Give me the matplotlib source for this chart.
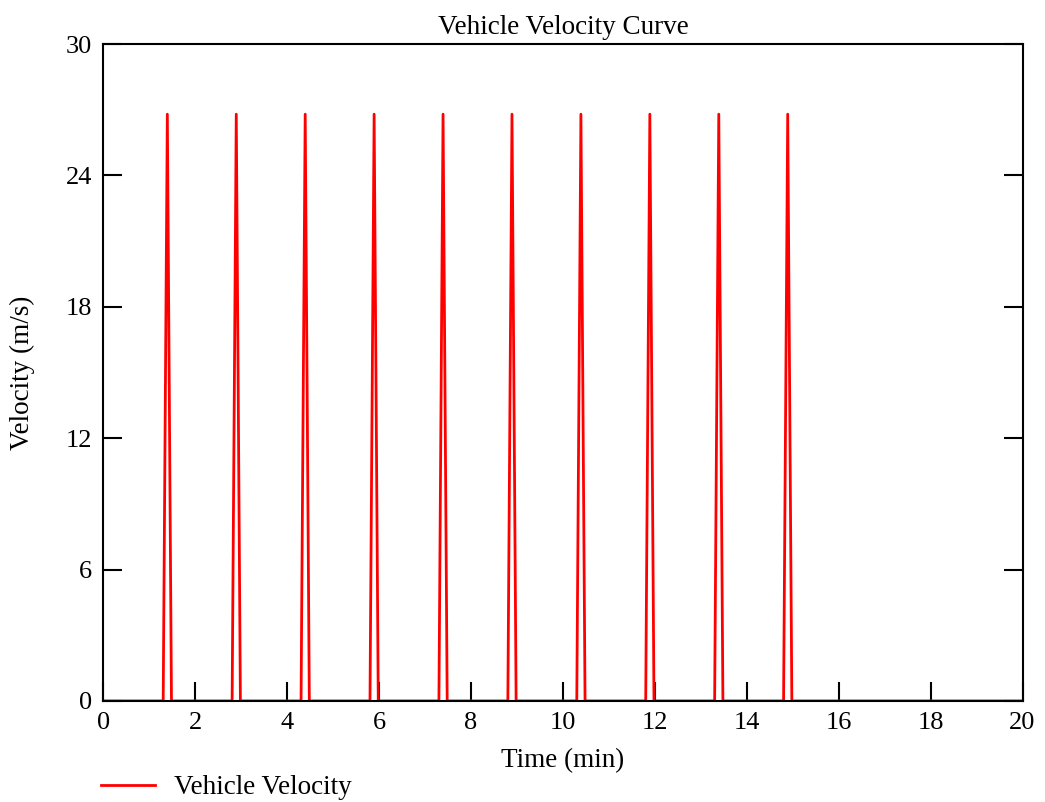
import matplotlib
matplotlib.use("Agg")
import matplotlib.pyplot as plt
from matplotlib.lines import Line2D

plt.rcParams['font.family'] = ['Liberation Serif', 'DejaVu Serif']

time_min = [0.0,
            1.30, 1.39, 1.48,
            2.80, 2.89, 2.98,
            4.30, 4.39, 4.48,
            5.80, 5.89, 5.98,
            7.30, 7.39, 7.48,
            8.80, 8.89, 8.98,
            10.30, 10.39, 10.48,
            11.80, 11.89, 11.98,
            13.30, 13.39, 13.48,
            14.80, 14.89, 14.98,
            20.0]
velocity = [0.0,
            0.0, 26.8, 0.0,
            0.0, 26.8, 0.0,
            0.0, 26.8, 0.0,
            0.0, 26.8, 0.0,
            0.0, 26.8, 0.0,
            0.0, 26.8, 0.0,
            0.0, 26.8, 0.0,
            0.0, 26.8, 0.0,
            0.0, 26.8, 0.0,
            0.0, 26.8, 0.0,
            0.0]
x_ticks = [0, 2, 4, 6, 8, 10, 12, 14, 16, 18, 20]
y_ticks = [0, 6, 12, 18, 24, 30]

fig = plt.figure(figsize=(10.45, 8.02), dpi=100)
ax = fig.add_axes([0.099, 0.126, 0.8795, 0.819])
ax.plot(time_min, velocity, color='#ff0000', lw=2.0)
ax.set_xlim(0, 20)
ax.set_ylim(0, 30)
ax.set_xticks(x_ticks)
ax.set_yticks(y_ticks)
ax.tick_params(axis='both', direction='in', length=14, width=1.5, labelsize=19, pad=8)
ax.tick_params(axis='y', right=True)
for s in ax.spines.values():
    s.set_linewidth(1.5)
ax.set_title('Vehicle Velocity Curve', fontsize=19.5, pad=7)
ax.set_xlabel('Time (min)', fontsize=19.5, labelpad=10)
ax.set_ylabel('Velocity (m/s)', fontsize=19.5, labelpad=22)

handle = Line2D([], [], color='#ff0000', lw=2.0)
fig.legend([handle], ['Vehicle Velocity'], loc='lower left', bbox_to_anchor=(0.073, -0.028),
           frameon=False, fontsize=19.5, handlelength=2.0, handletextpad=0.7)

fig.savefig('out.png', dpi=100)
